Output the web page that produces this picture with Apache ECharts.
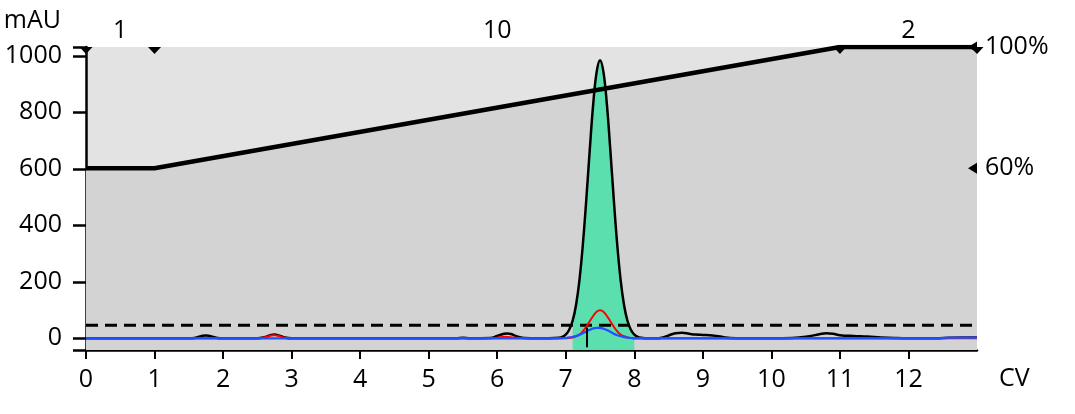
<!DOCTYPE html>
<html><head><meta charset="utf-8">
<script src="https://cdn.jsdelivr.net/npm/echarts@6/dist/echarts.min.js"></script>
<style>html,body{margin:0;padding:0;background:#fff}#c{width:1075px;height:414px}</style>
</head><body><div id="c"></div><script>
// ---- data ----
const xTickValues = [0,1,2,3,4,5,6,7,8,9,10,11,12];
const yTickValues = [0,200,400,600,800,1000];
const gradientCV  = [0, 1, 11, 13];
const gradientPct = [60, 60, 100, 100];
const levelPct    = [60, 100];
const segmentNames = ['1', '10', '2'];
const thresholdMAU = 46;
const fractionStart = 7.1, fractionEnd = 8.0;
const peakMarkCV = 7.31, peakMarkMAU = [38, -32];

// UV trace (black) [CV, mAU]
const uv1 = [[0,0],[1.5,0],[1.6,2],[1.7,9],[1.75,10],[1.8,8],[1.9,2],[2.0,0],[2.5,0],[2.6,4],[2.7,12],[2.75,13],[2.8,11],[2.9,3],[3.0,0],
 [5.4,0],[5.5,2],[5.6,0],[5.9,1],[6.0,8],[6.1,16],[6.15,17],[6.2,15],[6.3,6],[6.4,1],[6.6,0],[6.9,2],[6.95,5],[7.0,13],[7.05,30],
 [7.1,62],[7.15,118],[7.2,207],[7.25,334],[7.3,493],[7.35,667],[7.4,828],[7.45,942],[7.5,984],[7.55,942],[7.6,828],[7.65,667],
 [7.7,493],[7.75,334],[7.8,207],[7.85,118],[7.9,62],[7.95,30],[8.0,13],[8.05,5],[8.1,2],[8.2,0],[8.3,0],[8.4,2],[8.5,10],[8.6,18],
 [8.7,20],[8.8,16],[8.9,13],[9.0,12],[9.1,11],[9.2,8],[9.3,4],[9.4,1],[9.6,0],[10.0,0],[10.3,1],[10.5,5],[10.7,14],[10.8,18],
 [10.9,16],[11.0,11],[11.2,8],[11.4,6],[11.6,3],[11.8,1],[12.0,0],[12.4,0],[12.6,2],[12.8,3],[13.0,3]];
// second trace (red)
const uv2 = [[0,0],[2.5,0],[2.6,3],[2.7,10],[2.75,11],[2.8,9],[2.9,2],[3.0,0],[5.9,0],[6.0,2],[6.1,5],[6.2,4],[6.3,1],[6.5,0],
 [7.0,0],[7.05,1],[7.1,3],[7.15,7],[7.2,13],[7.25,25],[7.3,41],[7.35,60],[7.4,79],[7.45,94],[7.5,99],[7.55,94],[7.6,79],[7.65,60],
 [7.7,41],[7.75,25],[7.8,13],[7.85,7],[7.9,3],[7.95,1],[8.0,0],[13,0]];
// third trace (blue)
const uv3 = [[0,0],[6.9,0],[7.0,1],[7.05,3],[7.1,5],[7.15,8],[7.2,12],[7.25,18],[7.3,24],[7.35,30],[7.4,35],[7.45,37],[7.5,37],
 [7.55,34],[7.6,29],[7.65,23],[7.7,16],[7.75,11],[7.8,7],[7.85,4],[7.9,2],[7.95,1],[8.0,0],[12.4,0],[12.6,2],[13,2]];

// ---- chart ----
const FONT = 'Open Sans';
const FS = 25;
const X_MIN = 0, X_MAX = 13, Y_MIN = -41.5, Y_MAX = 1031;
const gradData = gradientCV.map((x, i) => [x, gradientPct[i]]);
const fracData = uv1.filter(p => p[0] >= fractionStart && p[0] <= fractionEnd);
const segMid = segmentNames.map((n, i) => [(gradientCV[i] + gradientCV[i + 1]) / 2, 100, n]);

const chart = echarts.init(document.getElementById('c'), null, {renderer: 'canvas'});
chart.setOption({
  animation: false,
  textStyle: {fontFamily: FONT},
  grid: {left: 86, right: 98, top: 47, bottom: 64, show: true, backgroundColor: '#e3e3e3', borderWidth: 0},
  xAxis: {
    type: 'value', min: X_MIN, max: X_MAX,
    name: 'CV', nameLocation: 'end', nameGap: 22,
    nameTextStyle: {fontSize: FS, color: '#000', fontFamily: FONT, verticalAlign: 'top', padding: [16, 0, 0, 0]},
    axisLine: {show: true, onZero: false, lineStyle: {color: '#000', width: 2.5}},
    axisTick: {show: true, length: 9, lineStyle: {color: '#000', width: 2}, customValues: xTickValues},
    axisLabel: {customValues: xTickValues, color: '#000', fontSize: FS, fontFamily: FONT, margin: 17, formatter: v => String(v)},
    splitLine: {show: false}
  },
  yAxis: [{
    type: 'value', min: Y_MIN, max: Y_MAX,
    name: 'mAU', nameLocation: 'end', nameGap: 14,
    nameTextStyle: {fontSize: FS, color: '#000', fontFamily: FONT, align: 'right', padding: [0, 25, 0, 0]},
    axisLine: {show: true, onZero: false, lineStyle: {color: '#000', width: 2.5}},
    axisTick: {show: true, length: 13, lineStyle: {color: '#000', width: 2.5}, customValues: [Y_MIN].concat(yTickValues, [Y_MAX])},
    axisLabel: {customValues: yTickValues, color: '#000', fontSize: FS, fontFamily: FONT, margin: 24, formatter: v => String(v)},
    splitLine: {show: false}
  }, {
    type: 'value', min: 0, max: 100, position: 'right',
    axisLine: {show: false}, axisTick: {show: false},
    axisLabel: {customValues: levelPct, formatter: v => v + '%', color: '#000', fontSize: FS, fontFamily: FONT, margin: 8},
    splitLine: {show: false}
  }],
  series: [
    {type: 'line', yAxisIndex: 1, data: gradData, showSymbol: false, silent: true, z: 1,
     lineStyle: {width: 0}, areaStyle: {color: '#d3d3d3', opacity: 1, origin: 'start'}},
    {type: 'line', data: fracData, smooth: 0.4, showSymbol: false, silent: true, z: 2,
     lineStyle: {width: 0}, areaStyle: {color: '#5cdfae', opacity: 1, origin: 'start'}},
    {type: 'line', data: [[X_MIN, thresholdMAU], [X_MAX, thresholdMAU]], showSymbol: false, silent: true, z: 3,
     lineStyle: {color: '#000', width: 3, type: [12, 7]}},
    {type: 'line', data: uv1, smooth: 0.4, showSymbol: false, silent: true, z: 4,
     lineStyle: {color: '#000', width: 2.5}},
    {type: 'line', data: uv2, smooth: 0.4, showSymbol: false, silent: true, z: 4,
     lineStyle: {color: '#ff0000', width: 2}},
    {type: 'line', data: uv3, smooth: 0.4, showSymbol: false, silent: true, z: 4,
     lineStyle: {color: '#2050ff', width: 2.2}},
    {type: 'line', yAxisIndex: 1, data: gradData, showSymbol: false, silent: true, z: 5,
     lineStyle: {color: '#000', width: 4.5}},
    {type: 'line', data: peakMarkMAU.map(v => [peakMarkCV, v]), showSymbol: false, silent: true, z: 6,
     lineStyle: {color: '#000', width: 2}},
    {type: 'scatter', yAxisIndex: 1, data: gradientCV.map(x => [x, 100]), clip: false, silent: true, z: 7,
     symbol: 'triangle', symbolRotate: 180, symbolSize: [13, 7], symbolOffset: [0, 3.5], itemStyle: {color: '#000', opacity: 1}},
    {type: 'scatter', yAxisIndex: 1, data: levelPct.map(p => [X_MAX, p]), clip: false, silent: true, z: 7,
     symbol: 'triangle', symbolRotate: 90, symbolSize: [11, 9], symbolOffset: [-4.5, 0], itemStyle: {color: '#000', opacity: 1}},
    {type: 'scatter', yAxisIndex: 1, data: segMid, clip: false, silent: true, z: 7, symbolSize: 0,
     itemStyle: {opacity: 1},
     label: {show: true, position: 'top', distance: 4, formatter: p => p.data[2], color: '#000', fontSize: FS, fontFamily: FONT}}
  ]
});
</script></body></html>
